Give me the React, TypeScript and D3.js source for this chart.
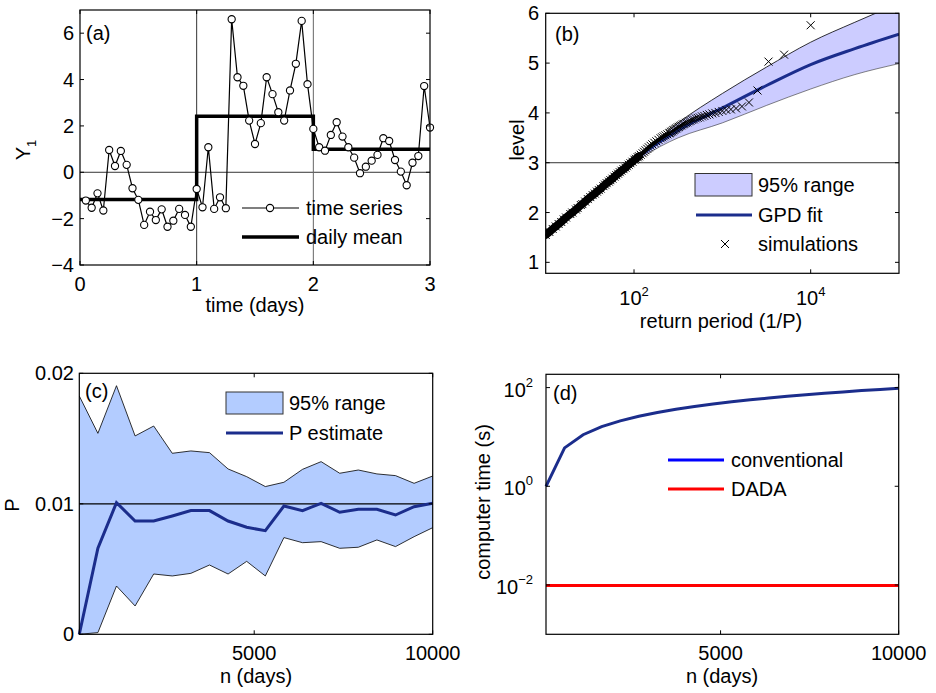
import React from "react";
import * as d3 from "d3";

const FONT = "'Liberation Sans', Arial, Helvetica, sans-serif";
const FS = 20;
const NAVY = "#1b2d8c";

// ---------- Panel (a) ----------
const timeA = [
  0.05, 0.1, 0.15, 0.2, 0.25, 0.3, 0.35, 0.4, 0.45, 0.5, 0.55, 0.6, 0.65, 0.7, 0.75, 0.8, 0.85, 0.9, 0.95, 1.0,
  1.05, 1.1, 1.15, 1.2, 1.25, 1.3, 1.35, 1.4, 1.45, 1.5, 1.55, 1.6, 1.65, 1.7, 1.75, 1.8, 1.85, 1.9, 1.95, 2.0,
  2.05, 2.1, 2.15, 2.2, 2.25, 2.3, 2.35, 2.4, 2.45, 2.5, 2.55, 2.6, 2.65, 2.7, 2.75, 2.8, 2.85, 2.9, 2.95, 3.0,
];
const seriesA = [
  -1.22, -1.53, -0.91, -1.65, 0.96, 0.27, 0.92, 0.32, -0.69, -1.19, -2.27, -1.7, -2.06, -1.6, -2.35, -2.09, -1.58, -1.84, -2.35, -0.72,
  -1.51, 1.08, -1.58, -1.08, -1.55, 6.6, 4.1, 3.73, 2.23, 1.22, 2.12, 4.1, 3.37, 2.59, 2.23, 3.53, 4.68, 6.53, 3.8, 1.87,
  1.08, 0.93, 1.61, 2.16, 1.54, 1.08, 0.63, -0.04, 0.24, 0.5, 0.75, 1.47, 1.35, 0.53, 0.03, -0.56, 0.41, 0.7, 3.72, 1.93,
];
const dayEdges = [0, 1, 2, 3];
const dailyMean = [-1.17, 2.42, 0.99, 0.99];
const yTicksA = [-4, -2, 0, 2, 4, 6];
const xTicksA = [0, 1, 2, 3];

// ---------- Panel (b) ----------
const bandT = [10, 100, 200, 316, 1000, 3162, 10000, 31623, 100000];
const bandLow = [1.55, 3.0, 3.33, 3.5, 3.8, 4.15, 4.48, 4.77, 4.99];
const bandHigh = [1.56, 3.1, 3.52, 3.8, 4.39, 4.92, 5.42, 5.82, 6.2];
const fitLevel = [1.55, 3.05, 3.43, 3.65, 4.1, 4.55, 4.97, 5.29, 5.58];
const simT = [
  10, 11, 12, 13, 14, 15, 16, 17, 19, 20, 22, 23, 25, 26, 28, 30, 32, 34, 36, 38, 40, 42, 45, 47, 49, 52, 54, 57, 60,
  63, 66, 69, 72, 76, 80, 83, 87, 91, 96, 101, 105, 110, 114, 119, 125, 130, 135, 141, 147, 154, 161, 170, 179, 189,
  200, 208, 217, 227, 238, 250, 256, 263, 270, 278, 286, 294, 303, 313, 323, 333, 345, 357, 370, 385, 400, 417, 435,
  455, 476, 500, 526, 556, 588, 625, 667, 714, 769, 833, 909, 1000, 1111, 1250, 1429, 1667, 2000, 2500, 3333, 5000, 10000,
];
const simLevel = [
  1.55, 1.61, 1.67, 1.72, 1.77, 1.81, 1.86, 1.9, 1.97, 2.0, 2.06, 2.09, 2.15, 2.17, 2.22, 2.27, 2.31, 2.35, 2.38, 2.42, 2.45, 2.48, 2.53, 2.56, 2.59, 2.62, 2.65, 2.68, 2.72,
  2.75, 2.78, 2.81, 2.84, 2.87, 2.9, 2.93, 2.96, 2.99, 3.02, 3.06, 3.08, 3.11, 3.13, 3.16, 3.19, 3.22, 3.25, 3.28, 3.31, 3.34, 3.37, 3.4, 3.43, 3.46,
  3.49, 3.51, 3.53, 3.55, 3.57, 3.59, 3.6, 3.62, 3.63, 3.65, 3.66, 3.68, 3.69, 3.71, 3.72, 3.74, 3.75, 3.77, 3.78, 3.8, 3.81, 3.83, 3.84,
  3.86, 3.87, 3.89, 3.9, 3.91, 3.93, 3.94, 3.96, 3.97, 3.99, 4.0, 4.02, 4.04, 4.06, 4.07, 4.09, 4.13, 4.21, 4.45, 5.03, 5.17, 5.76,
];
const denseLimitT = 115;
const midLimitT = 260;
const yTicksB = [1, 2, 3, 4, 5, 6];
const xTicksB = [100, 10000];

// ---------- Panel (c) ----------
const nDays = [100, 621, 1142, 1663, 2184, 2705, 3226, 3747, 4268, 4789, 5311, 5832, 6353, 6874, 7395, 7916, 8437, 8958, 9479, 10000];
const pHigh = [0.01826, 0.0154, 0.01905, 0.0152, 0.01596, 0.01387, 0.01405, 0.01392, 0.01267, 0.01208, 0.01132, 0.01165, 0.01264, 0.01323, 0.01234, 0.01259, 0.01229, 0.01216, 0.01157, 0.01213];
const pLow = [0, 0.00013, 0.0037, 0.00217, 0.00462, 0.00447, 0.00467, 0.00531, 0.00462, 0.00559, 0.00447, 0.00741, 0.00702, 0.0071, 0.00659, 0.00667, 0.00723, 0.00672, 0.00748, 0.00817];
const pEst = [0, 0.00659, 0.01009, 0.00868, 0.00868, 0.00907, 0.00948, 0.00948, 0.00868, 0.0082, 0.00794, 0.00983, 0.00948, 0.01004, 0.00935, 0.00958, 0.00958, 0.00914, 0.00978, 0.01004];
const yTicksC = [0, 0.01, 0.02];
const yTickLabelsC = ["0", "0.01", "0.02"];
const xTicksCD = [5000, 10000];

// ---------- Panel (d) ----------
const timeConventional = [1.0, 6.0, 11.1, 16.2, 21.2, 26.3, 31.3, 36.4, 41.4, 46.5, 51.5, 56.6, 61.6, 66.7, 71.7, 76.8, 81.8, 86.9, 91.9, 97];
const timeDADA = [0.0098, 0.0098, 0.0098, 0.0098, 0.0098, 0.0098, 0.0098, 0.0098, 0.0098, 0.0098, 0.0098, 0.0098, 0.0098, 0.0098, 0.0098, 0.0098, 0.0098, 0.0098, 0.0098, 0.0098];
const yTicksD = [0.01, 1, 100];
const yTickExpD = ["\u22122", "0", "2"];

const TL = 4;

function Frame({ x0, x1, y0, y1, xt, yt }: { x0: number; x1: number; y0: number; y1: number; xt: number[]; yt: number[] }) {
  return (
    <g>
      {xt.map((x, i) => (
        <g key={"x" + i}>
          <line x1={x} x2={x} y1={y1} y2={y1 - TL} stroke="#000" strokeWidth={1} />
          <line x1={x} x2={x} y1={y0} y2={y0 + TL} stroke="#000" strokeWidth={1} />
        </g>
      ))}
      {yt.map((y, i) => (
        <g key={"y" + i}>
          <line x1={x0} x2={x0 + TL} y1={y} y2={y} stroke="#000" strokeWidth={1} />
          <line x1={x1} x2={x1 - TL} y1={y} y2={y} stroke="#000" strokeWidth={1} />
        </g>
      ))}
      <rect x={x0} y={y0} width={x1 - x0} height={y1 - y0} fill="none" stroke="#000" strokeWidth={1.2} />
    </g>
  );
}

export default function App() {
  const xA = d3.scaleLinear().domain([0, 3]).range([80, 430]);
  const yA = d3.scaleLinear().domain([-4, 7]).range([265, 10]);
  const xB = d3.scaleLog().domain([10, 1e5]).range([545.7, 899]);
  const yB = d3.scaleLinear().domain([0.78, 6]).range([273.3, 13.3]);
  const xC = d3.scaleLinear().domain([100, 10000]).range([79.3, 432.7]);
  const yC = d3.scaleLinear().domain([0, 0.02]).range([634.3, 373.3]);
  const xD = d3.scaleLinear().domain([100, 10000]).range([546, 898.7]);
  const yD = d3.scaleLog().domain([0.001, 186]).range([634.3, 374.3]);

  const lineA = d3.line<number>().x((_, i) => xA(timeA[i])).y((d) => yA(d));
  const meanLine = d3.line<number>().x((_, i) => xA(dayEdges[i])).y((d) => yA(d)).curve(d3.curveStepAfter);

  const bandB = d3.area<number>().x((t) => xB(t)).y0((_, i) => yB(bandLow[i])).y1((_, i) => yB(bandHigh[i])).curve(d3.curveMonotoneX);
  const lowB = d3.line<number>().x((t) => xB(t)).y((_, i) => yB(bandLow[i])).curve(d3.curveMonotoneX);
  const highB = d3.line<number>().x((t) => xB(t)).y((_, i) => yB(bandHigh[i])).curve(d3.curveMonotoneX);
  const fitB = d3.line<number>().x((t) => xB(t)).y((_, i) => yB(fitLevel[i])).curve(d3.curveMonotoneX);
  const denseIdx = simT.map((_, i) => i).filter((i) => simT[i] <= denseLimitT);
  const midIdx = simT.map((_, i) => i).filter((i) => simT[i] >= denseLimitT - 10 && simT[i] <= midLimitT);
  const denseB = d3.line<number>().x((i) => xB(simT[i])).y((i) => yB(simLevel[i]));

  const bandC = d3.area<number>().x((n) => xC(n)).y0((_, i) => yC(pLow[i])).y1((_, i) => yC(pHigh[i]));
  const lowC = d3.line<number>().x((n) => xC(n)).y((_, i) => yC(pLow[i]));
  const highC = d3.line<number>().x((n) => xC(n)).y((_, i) => yC(pHigh[i]));
  const estC = d3.line<number>().x((n) => xC(n)).y((_, i) => yC(pEst[i]));

  const convD = d3.line<number>().x((n) => xD(n)).y((_, i) => yD(timeConventional[i]));
  const dadaD = d3.line<number>().x((n) => xD(n)).y((_, i) => yD(timeDADA[i]));

  const txt = { fontFamily: FONT, fontSize: FS, fill: "#000" } as const;
  const cs = 4;
  const crossPath = (cx: number, cy: number) =>
    `M${cx - cs},${cy - cs}L${cx + cs},${cy + cs}M${cx - cs},${cy + cs}L${cx + cs},${cy - cs}`;

  return (
    <div style={{ position: "absolute", left: 0, top: 0, width: 936, height: 693, background: "#fff" }}>
      <svg width={936} height={693} viewBox="0 0 936 693">
        <defs>
          <clipPath id="clipB">
            <rect x={545.7} y={13.3} width={899 - 545.7} height={273.3 - 13.3} />
          </clipPath>
        </defs>
        <rect x={0} y={0} width={936} height={693} fill="#fff" />

        {/* ===== Panel (a) ===== */}
        <line x1={xA(0)} x2={xA(3)} y1={yA(0)} y2={yA(0)} stroke="#000" strokeWidth={0.8} />
        <line x1={xA(1)} x2={xA(1)} y1={yA(7)} y2={yA(-4)} stroke="#000" strokeWidth={0.8} />
        <line x1={xA(2)} x2={xA(2)} y1={yA(7)} y2={yA(-4)} stroke="#666" strokeWidth={1} />
        <path d={meanLine(dailyMean) || ""} fill="none" stroke="#000" strokeWidth={3.5} />
        <path d={lineA(seriesA) || ""} fill="none" stroke="#000" strokeWidth={1.2} />
        {seriesA.map((v, i) => (
          <circle key={i} cx={xA(timeA[i])} cy={yA(v)} r={3.6} fill="#fff" stroke="#000" strokeWidth={1.1} />
        ))}
        <Frame x0={80} x1={430} y0={10} y1={265} xt={xTicksA.map((d) => xA(d))} yt={yTicksA.map((d) => yA(d))} />
        {yTicksA.map((d) => (
          <text key={d} x={74} y={yA(d)} dy="0.35em" textAnchor="end" {...txt}>
            {d < 0 ? "\u2212" + Math.abs(d) : d}
          </text>
        ))}
        {xTicksA.map((d) => (
          <text key={d} x={xA(d)} y={291} textAnchor="middle" {...txt}>
            {d}
          </text>
        ))}
        <text x={255} y={312} textAnchor="middle" {...txt}>time (days)</text>
        <text transform="translate(30,150) rotate(-90)" textAnchor="middle" {...txt}>
          Y<tspan fontSize={13} dy={6}>1</tspan>
        </text>
        <text x={86} y={40} {...txt}>(a)</text>
        <line x1={242} x2={299} y1={208} y2={208} stroke="#000" strokeWidth={1.2} />
        <circle cx={270} cy={208} r={3.6} fill="#fff" stroke="#000" strokeWidth={1.1} />
        <text x={306} y={208} dy="0.35em" {...txt}>time series</text>
        <line x1={242} x2={299} y1={237} y2={237} stroke="#000" strokeWidth={3.5} />
        <text x={306} y={237} dy="0.35em" {...txt}>daily mean</text>

        {/* ===== Panel (b) ===== */}
        <g clipPath="url(#clipB)">
          <path d={bandB(bandT) || ""} fill="#ccccff" stroke="none" />
          <path d={highB(bandT) || ""} fill="none" stroke="#000" strokeWidth={0.8} />
          <path d={lowB(bandT) || ""} fill="none" stroke="#333" strokeWidth={0.6} />
          <line x1={545.7} x2={899} y1={yB(3)} y2={yB(3)} stroke="#000" strokeWidth={0.8} />
          <path d={fitB(bandT) || ""} fill="none" stroke={NAVY} strokeWidth={3} />
          <path d={denseB(denseIdx) || ""} fill="none" stroke="#000" strokeWidth={8} strokeLinecap="round" />
          <path d={denseB(midIdx) || ""} fill="none" stroke="#000" strokeWidth={4} />
          {simT.map((t, i) => (
            <path key={i} d={crossPath(xB(t), yB(simLevel[i]))} stroke="#000" strokeWidth={1} fill="none" />
          ))}
        </g>
        <Frame x0={545.7} x1={899} y0={13.3} y1={273.3} xt={xTicksB.map((d) => xB(d))} yt={yTicksB.map((d) => yB(d))} />
        {yTicksB.map((d) => (
          <text key={d} x={539} y={yB(d)} dy="0.35em" textAnchor="end" {...txt}>
            {d}
          </text>
        ))}
        {xTicksB.map((d) => (
          <text key={d} x={xB(d)} y={305} textAnchor="middle" {...txt}>
            10<tspan fontSize={13} dy={-9}>{Math.round(Math.log10(d))}</tspan>
          </text>
        ))}
        <text x={721} y={328} textAnchor="middle" {...txt}>return period (1/P)</text>
        <text transform="translate(524,140) rotate(-90)" textAnchor="middle" {...txt}>level</text>
        <text x={555} y={41} {...txt}>(b)</text>
        <rect x={695} y={173.5} width={57} height={22.5} fill="#ccccff" stroke="#333" strokeWidth={1} />
        <text x={758} y={185} dy="0.35em" {...txt}>95% range</text>
        <line x1={696} x2={752} y1={215} y2={215} stroke={NAVY} strokeWidth={3} />
        <text x={758} y={215} dy="0.35em" {...txt}>GPD fit</text>
        <path d={crossPath(725, 244)} stroke="#000" strokeWidth={1} />
        <text x={758} y={244} dy="0.35em" {...txt}>simulations</text>

        {/* ===== Panel (c) ===== */}
        <path d={bandC(nDays) || ""} fill="#b3ccff" stroke="none" />
        <path d={highC(nDays) || ""} fill="none" stroke="#000" strokeWidth={0.8} />
        <path d={lowC(nDays) || ""} fill="none" stroke="#000" strokeWidth={0.8} />
        <line x1={79.3} x2={432.7} y1={yC(0.01)} y2={yC(0.01)} stroke="#000" strokeWidth={1.2} />
        <path d={estC(nDays) || ""} fill="none" stroke={NAVY} strokeWidth={3} />
        <Frame x0={79.3} x1={432.7} y0={373.3} y1={634.3} xt={xTicksCD.map((d) => xC(d))} yt={yTicksC.map((d) => yC(d))} />
        {yTicksC.map((d, i) => (
          <text key={d} x={74} y={yC(d)} dy="0.35em" textAnchor="end" {...txt}>
            {yTickLabelsC[i]}
          </text>
        ))}
        {xTicksCD.map((d) => (
          <text key={d} x={xC(d)} y={660} textAnchor="middle" {...txt}>
            {d}
          </text>
        ))}
        <text x={256} y={683} textAnchor="middle" {...txt}>n (days)</text>
        <text transform="translate(19,505) rotate(-90)" textAnchor="middle" {...txt}>P</text>
        <text x={85} y={398} {...txt}>(c)</text>
        <rect x={226} y={392} width={57} height={22} fill="#b3ccff" stroke="#333" strokeWidth={1} />
        <text x={289} y={403} dy="0.35em" {...txt}>95% range</text>
        <line x1={226} x2={283} y1={433} y2={433} stroke={NAVY} strokeWidth={3} />
        <text x={289} y={433} dy="0.35em" {...txt}>P estimate</text>

        {/* ===== Panel (d) ===== */}
        <path d={convD(nDays) || ""} fill="none" stroke={NAVY} strokeWidth={3} />
        <path d={dadaD(nDays) || ""} fill="none" stroke="#ff0000" strokeWidth={3} />
        <Frame x0={546} x1={898.7} y0={374.3} y1={634.3} xt={xTicksCD.map((d) => xD(d))} yt={yTicksD.map((d) => yD(d))} />
        {yTicksD.map((d, i) => (
          <text key={d} x={533} y={yD(d) + 9} textAnchor="end" {...txt}>
            10<tspan fontSize={13} dy={-10}>{yTickExpD[i]}</tspan>
          </text>
        ))}
        {xTicksCD.map((d) => (
          <text key={d} x={xD(d)} y={660} textAnchor="middle" {...txt}>
            {d}
          </text>
        ))}
        <text x={722} y={683} textAnchor="middle" {...txt}>n (days)</text>
        <text transform="translate(490,502) rotate(-90)" textAnchor="middle" {...txt}>computer time (s)</text>
        <text x={553} y={400} {...txt}>(d)</text>
        <line x1={668} x2={724} y1={460} y2={460} stroke="#0000ff" strokeWidth={3} />
        <text x={731} y={460} dy="0.35em" {...txt}>conventional</text>
        <line x1={668} x2={724} y1={489} y2={489} stroke="#ff0000" strokeWidth={3} />
        <text x={731} y={489} dy="0.35em" {...txt}>DADA</text>
      </svg>
    </div>
  );
}
